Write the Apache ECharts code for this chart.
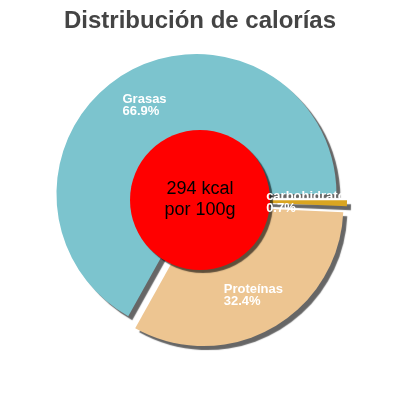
<!DOCTYPE html>
<html>
<head>
<meta charset="utf-8">
<script src="https://cdn.jsdelivr.net/npm/echarts@6/dist/echarts.min.js"></script>
<style>
html,body{margin:0;padding:0;background:#fff;}
#chart{width:400px;height:400px;}
</style>
</head>
<body>
<div id="chart"></div>
<script>
const titleText = 'Distribución de calorías';
const categories = ['carbohidratos', 'Proteínas', 'Grasas'];
const percents = [0.7, 32.4, 66.9];
const kcal = 294;
const centerUnit = 'kcal';
const centerSub = 'por 100g';

const colors = ['#d9a521', '#edc591', '#7cc4ce'];

const data = categories.map((c, i) => ({
  name: c,
  value: percents[i],
  selected: true,
  itemStyle: { color: colors[i] }
}));

const chart = echarts.init(document.getElementById('chart'), null, { renderer: 'canvas' });
const fontFamily = '"Liberation Sans", Arial, sans-serif';

chart.setOption({
  animation: false,
  title: {
    text: titleText,
    left: 'center',
    top: 4,
    textStyle: { fontSize: 24, fontWeight: 'bold', color: '#444444', fontFamily: fontFamily }
  },
  series: [
    {
      type: 'pie',
      center: [200, 200],
      radius: [0, 140],
      startAngle: 0,
      clockwise: true,
      selectedMode: 'multiple',
      selectedOffset: 7,
      percentPrecision: 1,
      avoidLabelOverlap: false,
      silent: true,
      emphasis: { disabled: true },
      itemStyle: {
        shadowColor: 'rgba(0,0,0,0.6)',
        shadowBlur: 1,
        shadowOffsetX: 4,
        shadowOffsetY: 4
      },
      label: { show: false },
      labelLine: { show: false },
      data: data
    },
    {
      type: 'pie',
      center: [200, 200],
      radius: [59, 140],
      startAngle: 0,
      clockwise: true,
      selectedMode: 'multiple',
      selectedOffset: 7,
      percentPrecision: 1,
      avoidLabelOverlap: false,
      silent: true,
      emphasis: { disabled: true },
      z: 5,
      itemStyle: { color: 'rgba(0,0,0,0)' },
      label: {
        show: true,
        position: 'inside',
        formatter: '{a|{b}}\n{a|{d}%}',
        rich: {
          a: {
            align: 'left',
            color: '#ffffff',
            fontSize: 13,
            fontWeight: 'bold',
            lineHeight: 12,
            fontFamily: fontFamily
          }
        }
      },
      labelLine: { show: false },
      data: categories.map((c, i) => ({ name: c, value: percents[i], selected: true }))
    },
    {
      type: 'pie',
      center: [200, 200],
      radius: [0, 70],
      silent: true,
      z: 3,
      emphasis: { disabled: true },
      itemStyle: {
        color: '#ff0000',
        shadowColor: 'rgba(0,0,0,0.6)',
        shadowBlur: 1,
        shadowOffsetX: 3,
        shadowOffsetY: 3
      },
      label: {
        show: true,
        position: 'center',
        formatter: kcal + ' ' + centerUnit + '\n' + centerSub,
        color: '#000000',
        fontSize: 18,
        lineHeight: 21,
        fontFamily: fontFamily
      },
      labelLine: { show: false },
      data: [{ name: 'kcal', value: kcal }]
    }
  ]
});
</script>
</body>
</html>
